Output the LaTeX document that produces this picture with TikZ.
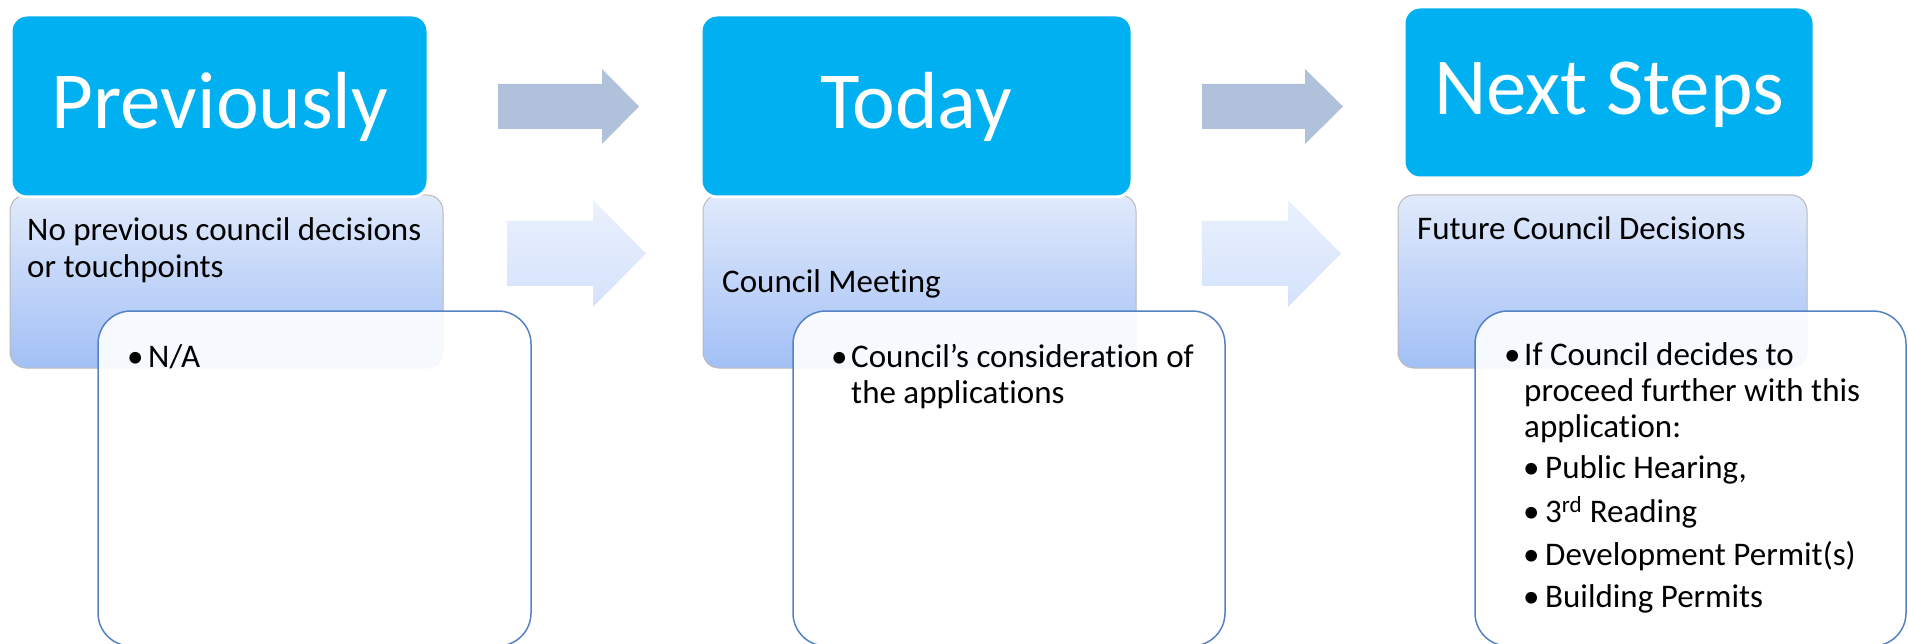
\documentclass[tikz,border=0pt]{standalone}
\usepackage{fontspec}
\setmainfont[Ligatures=NoCommon]{Carlito}
\definecolor{cyanbox}{RGB}{0,176,240}
\definecolor{arrowtop}{RGB}{176,193,220}
\definecolor{arrowlowtop}{RGB}{234,241,253}
\definecolor{arrowlowbot}{RGB}{212,226,251}
\definecolor{gradtop}{RGB}{225,234,251}
\definecolor{gradbot}{RGB}{162,192,246}
\definecolor{noteborder}{RGB}{84,130,196}
\tikzset{
  titlebox/.style={fill=cyanbox, draw=white, line width=3pt, rounded corners=16pt},
  detailbox/.style={top color=gradtop, bottom color=gradbot, draw=gray!55, line width=1pt, rounded corners=16pt},
  notebox/.style={fill=white, fill opacity=0.9, draw=noteborder, line width=1.5pt, rounded corners=33pt},
  toparrow/.style={fill=arrowtop},
  lowarrow/.style={top color=arrowlowtop, bottom color=arrowlowbot},
  titletext/.style={text=white, font=\fontsize{81}{97}\selectfont, inner sep=0pt, anchor=base},
  bodytext/.style={text=black, font=\fontsize{33}{40}\selectfont, inner sep=0pt, anchor=base west}
}
\begin{document}
\begin{tikzpicture}[x=1pt,y=-1pt]
\useasboundingbox (0,0) rectangle (1908,644);
% column 1
\path[detailbox] (10,195) rectangle (443,368);
\path[titlebox] (11,15) rectangle (428,197);
\path[notebox] (98,311) rectangle (531,646);
% column 2
\path[detailbox] (703,195) rectangle (1136,368);
\path[titlebox] (701,15) rectangle (1132,197);
\path[notebox] (793,311) rectangle (1225,646);
% column 3
\path[detailbox] (1398,195) rectangle (1807,368);
\path[titlebox] (1404,7) rectangle (1814,178);
\path[notebox] (1475,311) rectangle (1906,646);
% arrows
\path[toparrow] (498,84) -- (602,84) -- (602,69) -- (639,106.5) -- (602,144) -- (602,129) -- (498,129) -- cycle;
\path[lowarrow] (507,221) -- (593,221) -- (593,200) -- (646,253.5) -- (593,307) -- (593,286) -- (507,286) -- cycle;
\path[toparrow] (1202,84) -- (1305,84) -- (1305,69) -- (1343,106.5) -- (1305,144) -- (1305,129) -- (1202,129) -- cycle;
\path[lowarrow] (1202,221) -- (1288,221) -- (1288,200) -- (1341,253.5) -- (1288,307) -- (1288,286) -- (1202,286) -- cycle;
% titles
\node[titletext] (t1) at (220,129) {Previously};
\node[titletext] (t2) at (916,129) {Today};
\node[titletext] (t3) at (1609,115) {Next Steps};
% detail texts
\node[bodytext] (d1a) at (27,241) {No previous council decisions};
\node[bodytext] (d1b) at (27,277) {or touchpoints};
\node[bodytext] (d2) at (722,292) {Council Meeting};
\node[bodytext] (d3) at (1417,240) {Future Council Decisions};
% note texts
\node[bodytext] (n1b) at (127,367) {•};
\node[bodytext] (n1) at (148,367) {N/A};
\node[bodytext] (n2b) at (831,367) {•};
\node[bodytext] (n2a) at (851,367) {Council’s consideration of};
\node[bodytext] (n2c) at (851,403) {the applications};
\node[bodytext] (n3b) at (1504,365) {•};
\node[bodytext] (n3a) at (1524,365) {If Council decides to};
\node[bodytext] (n3c) at (1524,401) {proceed further with this};
\node[bodytext] (n3d) at (1524,437) {application:};
\node[bodytext] (s1b) at (1523,478) {•};
\node[bodytext] (s1) at (1545,478) {Public Hearing,};
\node[bodytext] (s2b) at (1523,522) {•};
\node[bodytext] (s2) at (1545,522) {3\textsuperscript{rd} Reading};
\node[bodytext] (s3b) at (1523,565) {•};
\node[bodytext] (s3) at (1545,565) {Development Permit(s)};
\node[bodytext] (s4b) at (1523,607) {•};
\node[bodytext] (s4) at (1545,607) {Building Permits};
\end{tikzpicture}
\end{document}
